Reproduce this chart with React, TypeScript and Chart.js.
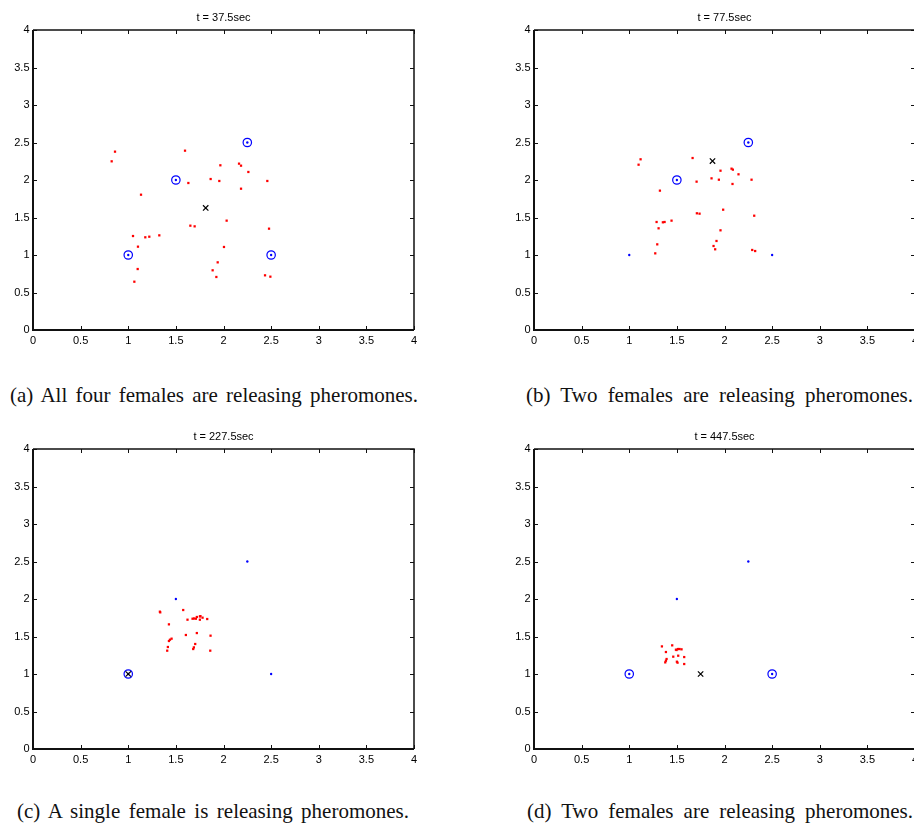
import React, { useEffect, useRef } from 'react';
import { Chart, registerables } from 'chart.js';

Chart.register(...registerables);

// ---------- data ----------
const tickValues = [0, 0.5, 1, 1.5, 2, 2.5, 3, 3.5, 4];
const tickLabels = ['0', '0.5', '1', '1.5', '2', '2.5', '3', '3.5', '4'];

const femaleX = [1, 1.5, 2.25, 2.5];
const femaleY = [1, 2, 2.5, 1];

const titleA = 't = 37.5sec';
const titleB = 't = 77.5sec';
const titleC = 't = 227.5sec';
const titleD = 't = 447.5sec';

const captionA = '(a) All four females are releasing pheromones.';
const captionB = '(b) Two females are releasing pheromones.';
const captionC = '(c) A single female is releasing pheromones.';
const captionD = '(d) Two females are releasing pheromones.';

const releasingA = [true, true, true, true];
const releasingB = [false, true, true, false];
const releasingC = [true, false, false, false];
const releasingD = [true, false, false, true];

const markerA = [1.813, 1.627];
const markerB = [1.874, 2.253];
const markerC = [1.0, 1.0];
const markerD = [1.749, 1.0];

const malesA = [
  [0.861, 2.378], [0.826, 2.249], [1.596, 2.391], [1.967, 2.196], [2.163, 2.218],
  [2.184, 2.191], [2.261, 2.107], [1.865, 2.013], [1.956, 1.987], [1.631, 1.96],
  [2.46, 1.987], [2.184, 1.884], [1.134, 1.804], [2.033, 1.458], [1.652, 1.391],
  [1.697, 1.382], [2.478, 1.351], [1.05, 1.253], [1.179, 1.236], [1.221, 1.244],
  [1.326, 1.262], [1.102, 1.111], [2.005, 1.107], [1.939, 0.902], [1.099, 0.813],
  [1.886, 0.796], [1.925, 0.707], [2.436, 0.729], [2.492, 0.711], [1.064, 0.644],
];

const malesB = [
  [1.119, 2.276], [1.098, 2.204], [1.665, 2.293], [1.958, 2.124], [2.074, 2.151],
  [2.088, 2.138], [2.147, 2.076], [1.864, 2.022], [1.941, 2.004], [1.707, 1.978],
  [2.284, 2.004], [2.084, 1.947], [1.322, 1.858], [1.986, 1.604], [1.71, 1.556],
  [1.738, 1.551], [2.312, 1.524], [1.287, 1.44], [1.353, 1.436], [1.371, 1.44],
  [1.444, 1.458], [1.308, 1.356], [1.958, 1.329], [1.916, 1.187], [1.294, 1.142],
  [1.885, 1.12], [1.902, 1.076], [1.273, 1.022], [2.291, 1.067], [2.322, 1.053],
];

const malesC = [
  [1.332, 1.831], [1.336, 1.822], [1.577, 1.853], [1.622, 1.724], [1.675, 1.737],
  [1.71, 1.737], [1.72, 1.76], [1.752, 1.768], [1.752, 1.724], [1.78, 1.751],
  [1.829, 1.733], [1.427, 1.662], [1.72, 1.546], [1.605, 1.52], [1.864, 1.511],
  [1.455, 1.471], [1.438, 1.457], [1.427, 1.44], [1.703, 1.4], [1.689, 1.355],
  [1.682, 1.333], [1.416, 1.36], [1.409, 1.311], [1.861, 1.311], [1.758, 1.772],
  [1.69, 1.74],
];

const malesD = [
  [1.343, 1.368], [1.451, 1.382], [1.385, 1.293], [1.49, 1.324], [1.511, 1.333],
  [1.528, 1.333], [1.549, 1.329], [1.497, 1.32], [1.462, 1.231], [1.514, 1.244],
  [1.577, 1.226], [1.392, 1.2], [1.385, 1.177], [1.378, 1.155], [1.5, 1.164],
  [1.507, 1.151], [1.577, 1.133],
];

// ---------- chart ----------
const SANS = '"Liberation Sans", Arial, Helvetica, sans-serif';

const framePlugin = {
  id: 'matlabFrame',
  afterDraw(chart: any, _args: any, opts: any) {
    const { ctx, chartArea } = chart;
    const { left, right, top, bottom } = chartArea;
    const xs = chart.scales.x;
    const ys = chart.scales.y;
    ctx.save();
    ctx.strokeStyle = '#111';
    ctx.lineWidth = 1;
    ctx.beginPath();
    tickValues.forEach((v) => {
      const px = Math.round(xs.getPixelForValue(v)) + 0.5;
      ctx.moveTo(px, bottom);
      ctx.lineTo(px, bottom - 4);
      ctx.moveTo(px, top);
      ctx.lineTo(px, top + 4);
    });
    tickValues.forEach((v) => {
      const py = Math.round(ys.getPixelForValue(v)) + 0.5;
      ctx.moveTo(left, py);
      ctx.lineTo(left + 4, py);
      ctx.moveTo(right, py);
      ctx.lineTo(right - 4, py);
    });
    ctx.stroke();
    ctx.lineWidth = 1.5;
    ctx.beginPath();
    ctx.moveTo(left, top);
    ctx.lineTo(right, top);
    ctx.lineTo(right, bottom);
    ctx.stroke();
    ctx.lineWidth = 2;
    ctx.beginPath();
    ctx.moveTo(left, top);
    ctx.lineTo(left, bottom);
    ctx.lineTo(right, bottom);
    ctx.stroke();
    ctx.fillStyle = '#000';
    ctx.font = '11px ' + SANS;
    ctx.textAlign = 'center';
    ctx.textBaseline = 'alphabetic';
    ctx.fillText(opts.text || '', (left + right) / 2, top - 9.5);
    ctx.restore();
  },
};

type PanelProps = {
  title: string;
  males: number[][];
  marker: number[];
  releasing: boolean[];
  left: number;
  top: number;
};

function Panel({ title, males, marker, releasing, left, top }: PanelProps) {
  const ref = useRef<HTMLCanvasElement | null>(null);
  useEffect(() => {
    if (!ref.current) return;
    const circled = femaleX
      .map((x, i) => ({ x, y: femaleY[i] }))
      .filter((_, i) => releasing[i]);
    const centers = femaleX.map((x, i) => ({ x, y: femaleY[i] }));
    const tickFont = { family: SANS, size: 11 };
    const labelCb = (v: any) => {
      const i = tickValues.indexOf(Number(v));
      return i >= 0 ? tickLabels[i] : '';
    };
    const chart = new Chart(ref.current, {
      type: 'scatter',
      data: {
        datasets: [
          {
            label: 'marker',
            data: [{ x: marker[0], y: marker[1] }],
            pointStyle: 'crossRot',
            radius: 3.8,
            borderColor: '#000',
            backgroundColor: '#000',
            borderWidth: 1.2,
          },
          {
            label: 'releasing',
            data: circled,
            pointStyle: 'circle',
            radius: 4.2,
            borderColor: '#0000ff',
            backgroundColor: 'rgba(0,0,0,0)',
            borderWidth: 1.2,
          },
          {
            label: 'females',
            data: centers,
            pointStyle: 'circle',
            radius: 1.2,
            borderWidth: 0,
            backgroundColor: '#0000ff',
            borderColor: '#0000ff',
          },
          {
            label: 'males',
            data: males.map((p) => ({ x: p[0], y: p[1] })),
            pointStyle: 'rect',
            radius: 1.6,
            borderWidth: 0,
            backgroundColor: '#ff0000',
            borderColor: '#ff0000',
          },
        ],
      },
      options: {
        responsive: false,
        animation: false,
        events: [],
        layout: { padding: { left: 0, top: 30, right: 46, bottom: 15 } },
        plugins: {
          legend: { display: false },
          tooltip: { enabled: false },
          title: { display: false },
          matlabFrame: { text: title },
        } as any,
        scales: {
          x: {
            type: 'linear',
            position: 'bottom',
            min: 0,
            max: 4,
            afterFit: (s: any) => {
              s.height = 20;
            },
            afterBuildTicks: (s: any) => {
              s.ticks = tickValues.map((v) => ({ value: v }));
            },
            ticks: {
              autoSkip: false,
              maxRotation: 0,
              minRotation: 0,
              padding: 4,
              color: '#000',
              font: tickFont,
              callback: labelCb,
            },
            grid: { display: false, drawTicks: false },
            border: { display: false },
          },
          y: {
            type: 'linear',
            position: 'left',
            min: 0,
            max: 4,
            afterFit: (s: any) => {
              s.width = 33;
            },
            afterBuildTicks: (s: any) => {
              s.ticks = tickValues.map((v) => ({ value: v }));
            },
            ticks: {
              autoSkip: false,
              padding: 3.5,
              color: '#000',
              font: tickFont,
              callback: labelCb,
            },
            grid: { display: false, drawTicks: false },
            border: { display: false },
          },
        },
      } as any,
      plugins: [framePlugin as any],
    });
    return () => chart.destroy();
  }, [title, males, marker, releasing]);
  return (
    <canvas
      ref={ref}
      width={460}
      height={365}
      style={{ position: 'absolute', left, top, width: 460, height: 365 }}
    />
  );
}

function Caption({ text, left, width, top }: { text: string; left: number; width: number; top: number }) {
  return (
    <div
      style={{
        position: 'absolute',
        left,
        top,
        width,
        fontFamily: '"Liberation Serif", "Times New Roman", Times, serif',
        fontSize: 21,
        lineHeight: '21px',
        color: '#111',
        textAlign: 'justify',
        textAlignLast: 'justify' as any,
      }}
    >
      {text}
    </div>
  );
}

export default function App() {
  return (
    <div
      style={{
        position: 'absolute',
        left: 0,
        top: 0,
        width: 914,
        height: 827,
        overflow: 'hidden',
        background: '#fff',
      }}
    >
      <Panel title={titleA} males={malesA} marker={markerA} releasing={releasingA} left={0} top={0} />
      <Panel title={titleB} males={malesB} marker={markerB} releasing={releasingB} left={501} top={0} />
      <Panel title={titleC} males={malesC} marker={markerC} releasing={releasingC} left={0} top={419} />
      <Panel title={titleD} males={malesD} marker={markerD} releasing={releasingD} left={501} top={419} />
      <Caption text={captionA} left={10} width={408} top={385} />
      <Caption text={captionB} left={526} width={387} top={385} />
      <Caption text={captionC} left={17} width={392} top={801} />
      <Caption text={captionD} left={527} width={386} top={801} />
    </div>
  );
}
